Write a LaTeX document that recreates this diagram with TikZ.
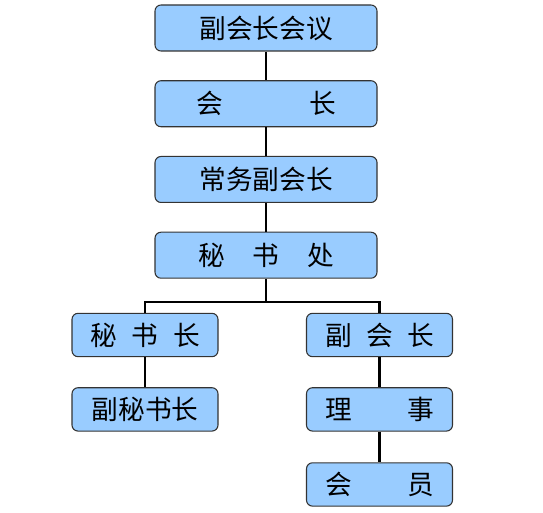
\documentclass[tikz,border=0pt]{standalone}
\usepackage{fontspec}
\newfontfamily\cjk{Noto Sans CJK SC}
\usetikzlibrary{positioning}
\definecolor{boxblue}{HTML}{99CCFF}
\definecolor{boxline}{HTML}{333333}
\tikzstyle{post}=[draw=boxline,fill=boxblue,rounded corners=4.5pt,line width=0.8pt,
                font=\cjk\fontsize{20pt}{24pt}\selectfont,inner sep=0pt]
\tikzstyle{big post}=[post,minimum width=166.5pt,minimum height=34.5pt]
\tikzstyle{small post}=[post,minimum width=109.5pt,minimum height=32.5pt]
\tikzstyle{link}=[line width=2pt,black]

\begin{document}
\begin{tikzpicture}[x=0.75pt,y=-0.75pt]
        \useasboundingbox (0,0) rectangle (543,513);
        \node [big post] (meeting) at (266,28) {副会长会议};
        \node [big post,below = 21.5pt of meeting] (president) {会\hspace{3.23em}长};
        \node [big post,below = 21.5pt of president] (standing) {常务副会长};
        \node [big post,below = 21.5pt of standing] (office) {秘\hspace{1.04em}书\hspace{1.04em}处};
        \node [small post] (secgen) at (145,335) {秘\hspace{0.55em}书\hspace{0.55em}长};
        \node [small post,below = 22.5pt of secgen] (deputysec) {副秘书长};
        \node [small post] (vice) at (379.5,335) {副\hspace{0.54em}会\hspace{0.54em}长};
        \node [small post,below = 22.5pt of vice] (council) {理\hspace{2.07em}事};
        \node [small post,below = 23pt of council] (member) {会\hspace{2.07em}员};
        \coordinate (split) at (266,302);
        \draw [link] (meeting) -- (president);
        \draw [link] (president) -- (standing);
        \draw [link] (standing) -- (office);
        \draw [link] (office) -- (split);
        \draw [link] (split) -| (secgen);
        \draw [link] (split) -| (vice);
        \draw [link] (secgen) -- (deputysec);
        \draw [link] (vice) -- (council);
        \draw [link] (council) -- (member);
    \end{tikzpicture}
\end{document}
